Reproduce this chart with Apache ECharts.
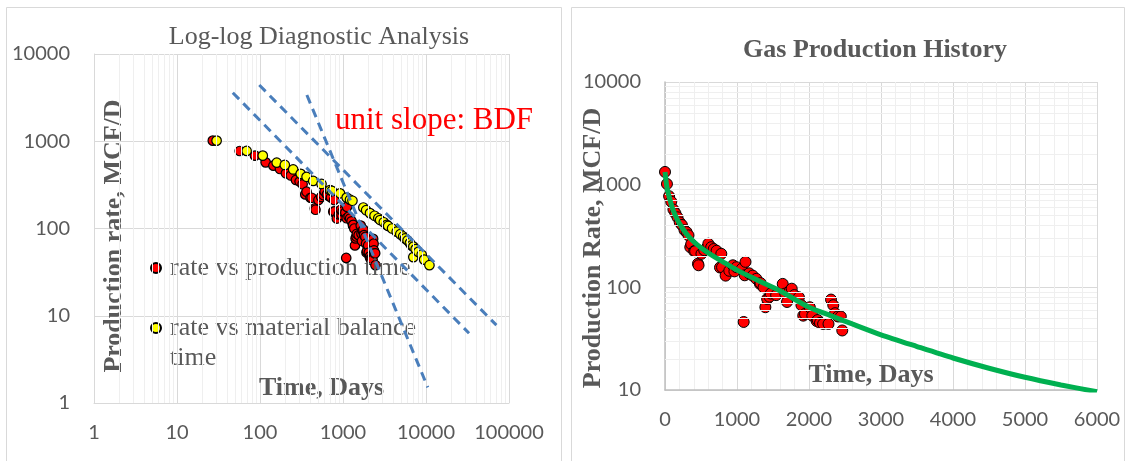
<!DOCTYPE html>
<html>
<head>
<meta charset="utf-8">
<title>Gas production diagnostics</title>
<script src="https://cdn.jsdelivr.net/npm/echarts@6.0.0/dist/echarts.min.js"></script>
<style>
  html, body { margin: 0; padding: 0; background: #ffffff; }
  #chart { width: 1130px; height: 461px; }
</style>
</head>
<body>
<div id="chart"></div>
<script>
// Production history: time (days) and gas rate (MCF/D)
const prodTime = [0, 27, 57, 87, 117, 145, 174, 205, 235, 271, 300, 326, 351, 364, 406, 419, 458, 466, 506, 545,
  580, 602, 642, 677, 717, 764, 782, 792, 842, 893, 943, 964, 993, 1068, 1093, 1107, 1118, 1168, 1218, 1269,
  1319, 1327, 1369, 1394, 1419, 1452, 1469, 1544, 1635, 1670, 1695, 1736, 1760, 1795, 1860, 1895, 1920, 1944, 2011, 2046,
  2106, 2121, 2153, 2196, 2271, 2306, 2337, 2362, 2402, 2442, 2462];
const prodRate = [1330, 1016, 773, 684, 573, 525, 481, 429, 405, 360, 345, 321, 246, 264, 225, 225, 170, 164, 212, 230,
  242, 266, 246, 236, 227, 156, 212, 157, 130, 145, 164, 143, 157, 152, 46, 131, 177, 137, 130, 121,
  108, 110, 100, 64, 77, 81, 87, 84, 108, 87, 72, 93, 97, 84, 80, 67, 53, 55, 64, 53,
  47, 48, 45, 44, 44, 76, 67, 56, 52, 52, 38];

// Material balance time (days) and gas rate (MCF/D)
const mbTime = [30, 69, 108, 159, 199, 251, 309, 364, 437, 551, 697, 735, 920, 1107, 1214, 1300, 1758, 1900, 2113, 2400,
  2663, 2800, 3100, 3362, 3500, 3900, 4436, 4900, 5310, 5587, 6000, 6400, 6700, 7036, 7036, 7500, 8080, 8874, 9500, 11000];
const mbRate = [1016, 775, 684, 568, 535, 475, 423, 391, 351, 324, 276, 270, 253, 226, 214, 208, 174, 162, 150, 140,
  131, 125, 118, 110, 107, 100, 92, 86, 81, 77, 73, 68, 64, 62, 47, 58, 54, 50, 44, 38];

// Decline curve forecast (days, MCF/D)
const fitTime = [0, 25, 50, 100, 150, 200, 300, 400, 500, 600, 800, 1000, 1300, 1600, 2000, 2300, 2600, 3000, 3500, 4000, 4500, 5000, 5500, 6000];
const fitRate = [1330, 960, 800, 600, 490, 420, 330, 278, 243, 217, 178, 147, 116, 92, 64, 53, 44, 34.5, 26.5, 20.5, 16.3, 13.3, 11.2, 9.6];

// Straight-line guides on the log-log plot: [time, rate] end points
const guideA = [[47, 3600], [33000, 6.3]];
const guideB = [[98, 4410], [70500, 7.8]];
const guideC = [[367, 3390], [10510, 1.51]];

// Axis ticks
const logTimeTicks = [1, 10, 100, 1000, 10000, 100000];
const logRateTicks = [1, 10, 100, 1000, 10000];
const histTimeTicks = [0, 1000, 2000, 3000, 4000, 5000, 6000];
const histRateTicks = [10, 100, 1000, 10000];

const zip = (xs, ys) => xs.map((x, i) => [x, ys[i]]);

// minor log gridline positions (2..9 within every decade)
function logMinors(ticks) {
  const out = [];
  for (let i = 0; i < ticks.length - 1; i++) {
    for (let m = 2; m <= 9; m++) out.push(ticks[i] * m);
  }
  return out;
}

const GRAY = '#595959';
const SERIF = '"Liberation Serif", "Times New Roman", serif';
const SANS = 'Lato, "Liberation Sans", sans-serif';
const MAJOR = '#D9D9D9';
const MINOR = '#EFEFEF';
const intLabel = v => String(Math.round(v));

const prodPoints = zip(prodTime, prodRate);
const mbPoints = zip(mbTime, mbRate);

const dashed = { color: '#4A7EBB', width: 3, type: [9, 6] };
function guideSeries(pts) {
  return {
    type: 'line', xAxisIndex: 0, yAxisIndex: 0, data: pts, symbol: 'none',
    lineStyle: dashed, silent: true, z: 5
  };
}
function gridMarks(axisKey, values, xi, yi) {
  return {
    type: 'line', xAxisIndex: xi, yAxisIndex: yi, data: [], silent: true, z: 0,
    markLine: {
      silent: true, symbol: ['none', 'none'], label: { show: false },
      lineStyle: { color: MINOR, width: 1, type: 'solid' },
      emphasis: { disabled: true }, animation: false,
      data: values.map(v => ({ [axisKey]: v }))
    }
  };
}

const chart = echarts.init(document.getElementById('chart'), null, { renderer: 'canvas' });

chart.setOption({
  backgroundColor: '#ffffff',
  animation: false,
  title: [
    { text: 'Log-log Diagnostic Analysis', left: 314, top: 19, textAlign: 'center',
      textStyle: { fontFamily: SERIF, fontWeight: 'normal', fontSize: 26, color: GRAY } },
    { text: 'Gas Production History', left: 870, top: 32, textAlign: 'center',
      textStyle: { fontFamily: SERIF, fontWeight: 'bold', fontSize: 26, color: GRAY } },
    { text: 'unit slope: BDF', left: 330, top: 100,
      textStyle: { fontFamily: SERIF, fontWeight: 'normal', fontSize: 31, color: '#FF0000' } }
  ],
  graphic: [
    { type: 'rect', shape: { x: 6.5, y: 7.5, width: 555, height: 480 }, style: { fill: null, stroke: MAJOR, lineWidth: 1 }, silent: true },
    { type: 'rect', shape: { x: 571.5, y: 7.5, width: 553, height: 480 }, style: { fill: null, stroke: MAJOR, lineWidth: 1 }, silent: true }
  ],
  legend: [
    { data: ['rate vs production time'], left: 150, top: 253, padding: 0,
      itemWidth: 10, itemHeight: 10, icon: 'circle',
      textStyle: { fontFamily: SERIF, fontSize: 26, color: GRAY, lineHeight: 30, padding: [0, 0, 0, 4] } },
    { data: ['rate vs material balance time'], left: 150, top: 283, padding: 0,
      itemWidth: 10, itemHeight: 10, icon: 'circle',
      formatter: () => '\nrate vs material balance\ntime',
      textStyle: { fontFamily: SERIF, fontSize: 26, color: GRAY, lineHeight: 30, padding: [0, 0, 0, 4] } }
  ],
  grid: [
    { left: 94, top: 54, width: 415, height: 349, outerBoundsMode: 'none', containLabel: false },
    { left: 665, top: 82, width: 432, height: 308, outerBoundsMode: 'none', containLabel: false }
  ],
  xAxis: [
    {
      gridIndex: 0, type: 'log', logBase: 10,
      min: logTimeTicks[0], max: logTimeTicks[logTimeTicks.length - 1],
      axisLine: { show: true, lineStyle: { color: MAJOR, width: 1 } },
      axisTick: { show: false },
      splitLine: { show: true, lineStyle: { color: MAJOR, width: 1 } },
      axisLabel: { fontFamily: SANS, fontSize: 20, color: GRAY, margin: 20, formatter: intLabel },
      name: 'Time, Days', nameLocation: 'middle', nameGap: -28, nameMoveOverlap: false,
      nameTextStyle: { fontFamily: SERIF, fontWeight: 'bold', fontSize: 26, color: GRAY, padding: [0, 0, 0, 40] }
    },
    {
      gridIndex: 1, type: 'value',
      min: histTimeTicks[0], max: histTimeTicks[histTimeTicks.length - 1], interval: 1000,
      axisLine: { show: true, lineStyle: { color: '#BFBFBF', width: 1.5 } },
      axisTick: { show: false },
      splitLine: { show: true, lineStyle: { color: MAJOR, width: 1 } },
      minorTick: { show: false, splitNumber: 5 },
      minorSplitLine: { show: true, lineStyle: { color: MINOR, width: 1 } },
      axisLabel: { fontFamily: SANS, fontSize: 20, color: GRAY, margin: 20, formatter: intLabel },
      name: 'Time, Days', nameLocation: 'middle', nameGap: -28, nameMoveOverlap: false,
      nameTextStyle: { fontFamily: SERIF, fontWeight: 'bold', fontSize: 26, color: GRAY, padding: [0, 20, 0, 0] }
    }
  ],
  yAxis: [
    {
      gridIndex: 0, type: 'log', logBase: 10,
      min: logRateTicks[0], max: logRateTicks[logRateTicks.length - 1],
      axisLine: { show: true, lineStyle: { color: MAJOR, width: 1 } },
      axisTick: { show: false },
      splitLine: { show: true, lineStyle: { color: MAJOR, width: 1 } },
      axisLabel: { fontFamily: SANS, fontSize: 20, color: GRAY, margin: 24, formatter: intLabel },
      name: 'Production rate, MCF/D', nameLocation: 'middle', nameGap: -33, nameMoveOverlap: false,
      nameTextStyle: { fontFamily: SERIF, fontWeight: 'bold', fontSize: 26, color: GRAY, padding: [0, 15, 0, 0] }
    },
    {
      gridIndex: 1, type: 'log', logBase: 10,
      min: histRateTicks[0], max: histRateTicks[histRateTicks.length - 1],
      axisLine: { show: true, lineStyle: { color: '#BFBFBF', width: 1.5 } },
      axisTick: { show: false },
      splitLine: { show: true, lineStyle: { color: MAJOR, width: 1 } },
      axisLabel: { fontFamily: SANS, fontSize: 20, color: GRAY, margin: 24, formatter: intLabel },
      name: 'Production Rate, MCF/D', nameLocation: 'middle', nameGap: 59, nameMoveOverlap: false,
      nameTextStyle: { fontFamily: SERIF, fontWeight: 'bold', fontSize: 26, color: GRAY, padding: [0, 24, 0, 0] }
    }
  ],
  series: [
    gridMarks('xAxis', logMinors(logTimeTicks), 0, 0),
    gridMarks('yAxis', logMinors(histRateTicks), 1, 1),
    {
      name: 'rate vs production time', type: 'scatter', xAxisIndex: 0, yAxisIndex: 0,
      data: prodPoints.filter(p => p[0] > 0), symbol: 'circle', symbolSize: 9.5, z: 3,
      itemStyle: { color: '#FF0000', borderColor: '#000000', borderWidth: 1.2, opacity: 1 }
    },
    {
      name: 'rate vs material balance time', type: 'scatter', xAxisIndex: 0, yAxisIndex: 0,
      data: mbPoints, symbol: 'circle', symbolSize: 9.5, z: 4,
      itemStyle: { color: '#FFFF00', borderColor: '#000000', borderWidth: 1.2, opacity: 1 }
    },
    guideSeries(guideA),
    guideSeries(guideB),
    guideSeries(guideC),
    {
      name: 'rate history', type: 'scatter', xAxisIndex: 1, yAxisIndex: 1,
      data: prodPoints, symbol: 'circle', symbolSize: 11, z: 3,
      itemStyle: { color: '#FF0000', borderColor: '#000000', borderWidth: 1, opacity: 1 }
    },
    {
      name: 'decline forecast', type: 'line', xAxisIndex: 1, yAxisIndex: 1,
      data: zip(fitTime, fitRate), symbol: 'none', smooth: 0.25, z: 5,
      lineStyle: { color: '#00B050', width: 5 }
    }
  ]
});
</script>
</body>
</html>
